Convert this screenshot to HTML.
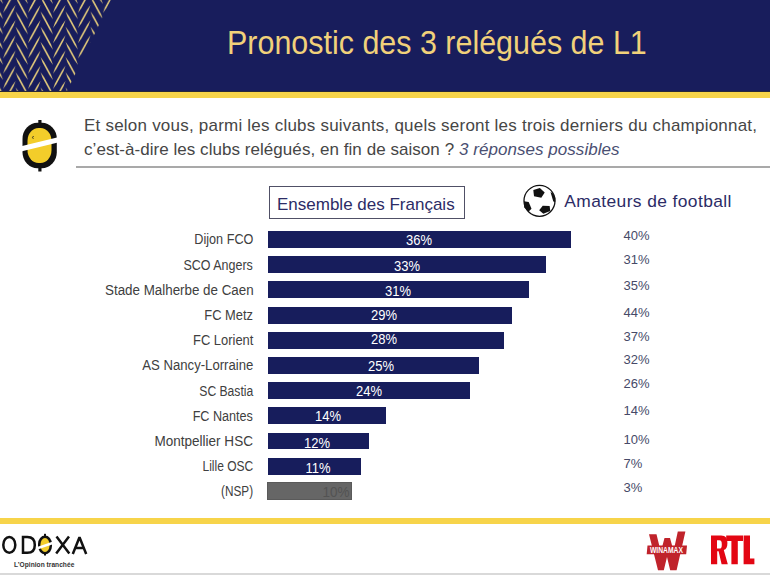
<!DOCTYPE html>
<html><head><meta charset="utf-8">
<style>
html,body{margin:0;padding:0;}
body{width:770px;height:575px;position:relative;overflow:hidden;background:#fff;font-family:"Liberation Sans",sans-serif;}
.a{position:absolute;white-space:nowrap;}
#hdr{left:0;top:0;width:770px;height:91px;background:#181d5c;}
#hline{left:0;top:91px;width:770px;height:1px;background:#2a2a3a;}
#ystripe{left:0;top:92px;width:770px;height:6px;background:#f7d44a;}
#title{left:227px;top:25.1px;font-size:32.4px;line-height:1.117;color:#f1d17a;transform-origin:left top;transform:scaleX(0.94);}
.q{font-size:17px;line-height:1.117;color:#464646;}
#sep{left:76px;top:166px;width:694px;height:2px;background:#a9a9a9;}
#box{left:269px;top:186px;width:194px;height:31px;border:1px solid #505066;}
.hd{font-size:17px;line-height:17px;color:#2c2c66;}
.bar{position:absolute;left:268px;height:16.9px;background:#1a1f5e;}
.lbl{position:absolute;right:516.7px;font-size:14px;line-height:1.117;color:#404040;white-space:nowrap;transform-origin:right center;}
.val{position:absolute;font-size:14.2px;line-height:1.117;color:#fff;white-space:nowrap;}
.pc{position:absolute;left:623.5px;font-size:13px;line-height:1.117;color:#464a68;white-space:nowrap;}
#fstripe{left:0;top:518px;width:770px;height:6px;background:#f7d44a;}
#fline{left:0;top:573px;width:770px;height:2px;background:#d9d9d9;}
</style></head><body>
<div class="a" id="hdr"></div>
<svg class="a" style="left:0;top:0" width="120" height="91" viewBox="0 0 120 91">
  <defs>
    <pattern id="hb" x="3.1" y="5" width="24.95" height="15.2" patternUnits="userSpaceOnUse">
      <g fill="#e3ca7a">
        <polygon points="0.00,7.80 3.45,3.12 10.45,-9.76 12.50,-15.20 9.05,-10.52 2.05,2.36"/>
        <polygon points="12.50,-8.80 14.54,-3.36 21.51,9.52 24.95,14.20 22.91,8.76 15.94,-4.12"/>
        <polygon points="0.00,23.00 3.45,18.32 10.45,5.44 12.50,0.00 9.05,4.68 2.05,17.56"/>
        <polygon points="12.50,6.40 14.54,11.84 21.51,24.72 24.95,29.40 22.91,23.96 15.94,11.08"/>
        <polygon points="0.00,38.20 3.45,33.52 10.45,20.64 12.50,15.20 9.05,19.88 2.05,32.76"/>
        <polygon points="12.50,21.60 14.54,27.04 21.51,39.92 24.95,44.60 22.91,39.16 15.94,26.28"/>
        <polygon points="0.00,53.40 3.45,48.72 10.45,35.84 12.50,30.40 9.05,35.08 2.05,47.96"/>
        <polygon points="12.50,36.80 14.54,42.24 21.51,55.12 24.95,59.80 22.91,54.36 15.94,41.48"/>
      </g>
    </pattern>
    <clipPath id="hc"><polygon points="0,0 111,0 67,91 0,91"/></clipPath>
  </defs>
  <rect x="0" y="0" width="120" height="91" fill="url(#hb)" clip-path="url(#hc)"/>
</svg>
<div class="a" id="hline"></div>
<div class="a" id="ystripe"></div>
<div class="a" id="title">Pronostic des 3 relégués de L1</div>

<!-- coin logo -->
<svg class="a" style="left:15px;top:115px" width="50" height="60" viewBox="0 0 50 60">
  <rect x="23.3" y="5" width="3.2" height="4" fill="#111"/>
  <rect x="23.3" y="52" width="3.2" height="4.5" fill="#111"/>
  <rect x="7.5" y="7.8" width="34.3" height="45.4" rx="15" ry="16" fill="#111"/>
  <rect x="12.5" y="13" width="24" height="35" rx="11" ry="13" fill="#f3cd2a"/>
  <path d="M18.6,21 Q16.6,22.3 18.3,23.8" fill="none" stroke="#222" stroke-width="0.9"/>
  <polygon points="5,31.6 43,22.3 43,27.6 5,36.8" fill="#fff"/>
</svg>

<div class="a q" id="q1" style="left:84px;top:115.6px;letter-spacing:0.22px">Et selon vous, parmi les clubs suivants, quels seront les trois derniers du championnat,</div>
<div class="a q" id="q2" style="left:84px;top:139.6px;letter-spacing:0.05px">c’est-à-dire les clubs relégués, en fin de saison ? <i style="color:#4a4f72">3 réponses possibles</i></div>
<div class="a" id="sep"></div>

<div class="a" id="box"></div>
<div class="a hd" id="ens" style="left:277px;top:195.8px">Ensemble des Français</div>
<svg class="a" style="left:519px;top:181px" width="40" height="40" viewBox="0 0 40 40">
  <circle cx="20.5" cy="19.85" r="15.5" fill="#fff" stroke="#111" stroke-width="1.3"/>
  <polygon points="14.3,9 20.9,7 25.7,11.5 22.3,16.7 15,15.3" fill="#111"/>
  <polygon points="31.5,11 33.8,12.3 36.3,17 36.2,21 34.3,20.5" fill="#111"/>
  <polygon points="4.9,20.2 9.7,20.9 12.5,27.8 9.7,30.6 5.2,26.4" fill="#111"/>
  <polygon points="20.2,29.2 23.7,24.7 30.6,25 31.3,29.9 24.3,32.7" fill="#111"/>
</svg>
<div class="a hd" id="ama" style="left:564.3px;top:192.8px;font-size:17.4px;letter-spacing:0.4px">Amateurs de football</div>

<!--CHART-->
<div id="chart">
<div class="bar" style="top:231.10px;width:303.12px;background:#171d5c"></div>
<div class="lbl" style="top:232.43px;transform:scaleX(0.903)">Dijon FCO</div>
<div class="val" style="left:418.96px;top:233.15px;transform:translateX(-50%) scaleX(0.915)">36%</div>
<div class="pc" style="top:229.33px">40%</div>
<div class="bar" style="top:256.28px;width:277.86px;background:#171d5c"></div>
<div class="lbl" style="top:257.61px;transform:scaleX(0.892)">SCO Angers</div>
<div class="val" style="left:406.83px;top:258.65px;transform:translateX(-50%) scaleX(0.915)">33%</div>
<div class="pc" style="top:252.83px">31%</div>
<div class="bar" style="top:281.46px;width:261.02px;background:#171d5c"></div>
<div class="lbl" style="top:282.79px;transform:scaleX(0.955)">Stade Malherbe de Caen</div>
<div class="val" style="left:397.71px;top:283.75px;transform:translateX(-50%) scaleX(0.915)">31%</div>
<div class="pc" style="top:278.74px">35%</div>
<div class="bar" style="top:306.64px;width:244.18px;background:#171d5c"></div>
<div class="lbl" style="top:307.97px;transform:scaleX(0.919)">FC Metz</div>
<div class="val" style="left:383.89px;top:307.55px;transform:translateX(-50%) scaleX(0.915)">29%</div>
<div class="pc" style="top:305.83px">44%</div>
<div class="bar" style="top:331.82px;width:235.76px;background:#171d5c"></div>
<div class="lbl" style="top:333.15px;transform:scaleX(0.923)">FC Lorient</div>
<div class="val" style="left:383.68px;top:332.05px;transform:translateX(-50%) scaleX(0.915)">28%</div>
<div class="pc" style="top:329.83px">37%</div>
<div class="bar" style="top:357.00px;width:210.50px;background:#171d5c"></div>
<div class="lbl" style="top:358.33px;transform:scaleX(0.938)">AS Nancy-Lorraine</div>
<div class="val" style="left:380.75px;top:358.75px;transform:translateX(-50%) scaleX(0.915)">25%</div>
<div class="pc" style="top:352.94px">32%</div>
<div class="bar" style="top:382.18px;width:202.08px;background:#171d5c"></div>
<div class="lbl" style="top:383.51px;transform:scaleX(0.867)">SC Bastia</div>
<div class="val" style="left:369.14px;top:384.05px;transform:translateX(-50%) scaleX(0.915)">24%</div>
<div class="pc" style="top:376.74px">26%</div>
<div class="bar" style="top:407.36px;width:117.88px;background:#171d5c"></div>
<div class="lbl" style="top:408.69px;transform:scaleX(0.901)">FC Nantes</div>
<div class="val" style="left:328.44px;top:408.95px;transform:translateX(-50%) scaleX(0.915)">14%</div>
<div class="pc" style="top:404.24px">14%</div>
<div class="bar" style="top:432.54px;width:101.04px;background:#171d5c"></div>
<div class="lbl" style="top:433.87px;transform:scaleX(0.966)">Montpellier HSC</div>
<div class="val" style="left:317.02px;top:436.05px;transform:translateX(-50%) scaleX(0.915)">12%</div>
<div class="pc" style="top:432.74px">10%</div>
<div class="bar" style="top:457.72px;width:92.62px;background:#171d5c"></div>
<div class="lbl" style="top:459.05px;transform:scaleX(0.857)">Lille OSC</div>
<div class="val" style="left:318.21px;top:460.75px;transform:translateX(-50%) scaleX(0.915)">11%</div>
<div class="pc" style="top:457.24px">7%</div>
<div class="bar" style="left:267.3px;top:482px;width:85.2px;height:17.5px;box-sizing:border-box;border:1px solid #5a5a5a;background:#666"></div>
<div class="lbl" style="top:484.23px;transform:scaleX(0.840)">(NSP)</div>
<div class="val" style="left:336px;top:484.95px;color:#535353;font-family:Liberation Sans;transform:translateX(-50%) scaleX(0.95)">10%</div>
<div class="pc" style="top:481.44px">3%</div>
</div>
<!--/CHART-->
<!-- footer logos -->
<svg class="a" style="left:0;top:525px" width="100" height="50" viewBox="0 525 100 50">
  <g fill="none" stroke="#111" stroke-width="2.5">
    <ellipse cx="9.3" cy="544.9" rx="6" ry="7.9"/>
    <path d="M23,537 H27.3 C32.9,537 34.8,540.8 34.8,544.9 C34.8,549 32.9,552.8 27.3,552.8 H23 Z"/>
    <path d="M56.5,536.6 L69.3,553.6 M69,536.6 L56.2,553.6"/>
    <path d="M72.8,554 L79.5,537.2 L86.2,554 M75.2,548 H83.8" stroke-linejoin="miter" stroke-miterlimit="2"/>
  </g>
  <rect x="44" y="533.8" width="2" height="3" fill="#111"/>
  <rect x="44" y="552.5" width="2" height="3" fill="#111"/>
  <rect x="38" y="535.5" width="14" height="19" rx="7" ry="8.5" fill="#111"/>
  <ellipse cx="45" cy="545" rx="4.6" ry="7" fill="#f3cd2a"/>
  <polygon points="37,547 53,541.5 53,544.2 37,549.7" fill="#fff"/>
  <text x="14" y="566.6" font-family="Liberation Sans" font-weight="bold" font-size="6.6" letter-spacing="0.2" fill="#333" textLength="60.5" lengthAdjust="spacing">L’Opinion tranchée</text>
</svg>
<svg class="a" style="left:640px;top:525px" width="130" height="50" viewBox="640 525 130 50">
  <path d="M649,534.3 L656.5,534.3 L660.8,552 L664.5,538 L670,538 L673.6,551 L677.8,531.5 L685.4,531.5 L676.6,570.3 L670.2,570.3 L667,557 L663.8,570.3 L658,570.3 Z" fill="#c0232b"/>
  <polygon points="647.5,545.6 687,545.6 686.2,554.2 646.7,554.2" fill="#c0232b"/>
  <text x="650" y="553" font-family="Liberation Sans" font-weight="bold" font-size="8.4" fill="#fff" textLength="33" lengthAdjust="spacingAndGlyphs">WINAMAX</text>
  <path d="M711,535.4 H721 C726,535.4 727.4,538.5 727.4,543 C727.4,547 726.3,549.2 723.8,550 L727.8,564.3 H721.6 L718.6,551.2 H717.2 V564.3 H711 Z M717,540.2 V548.6 H719.3 C721.2,548.6 721.8,547.3 721.8,544.4 C721.8,541.5 721.2,540.2 719.3,540.2 Z" fill="#e30613" fill-rule="evenodd"/>
  <path d="M726.2,535.4 H743 V541 H737.8 V564.3 H731.4 V541 H726.2 Z" fill="#e30613"/>
  <path d="M743.6,535.4 H750 V558.6 H754.4 V564.3 H743.6 Z" fill="#e30613"/>
</svg>
<div class="a" id="fstripe"></div>
<div class="a" id="fline"></div>
</body></html>
